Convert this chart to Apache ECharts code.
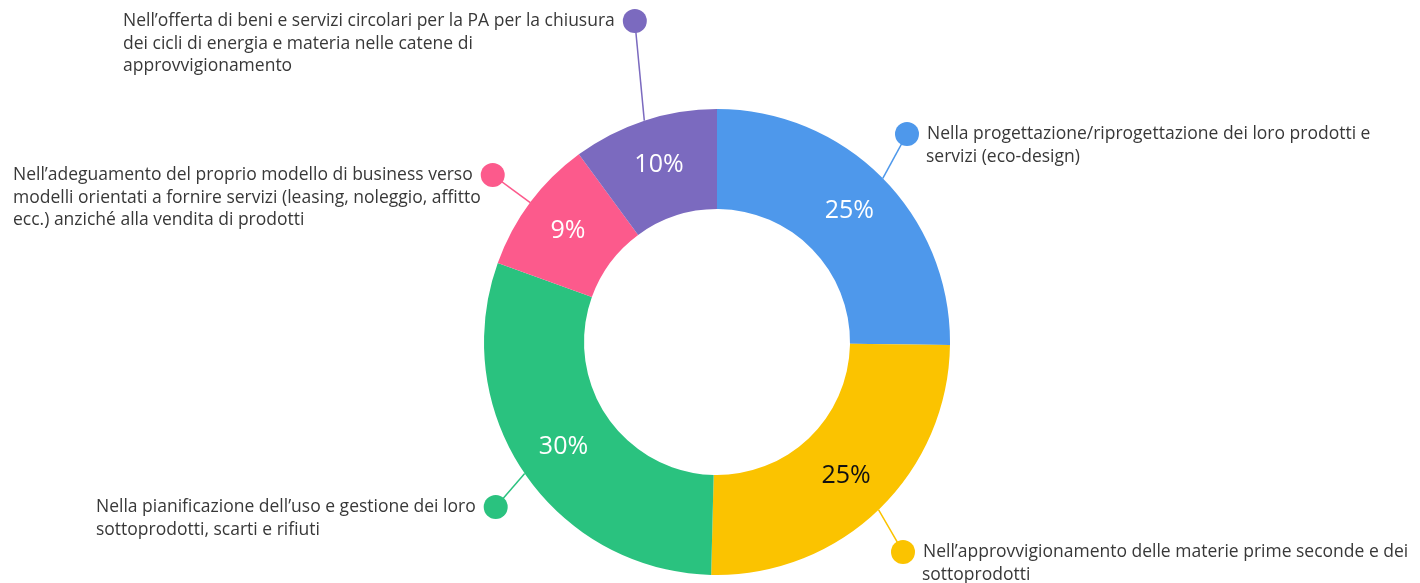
<!DOCTYPE html>
<html>
<head>
<meta charset="utf-8">
<script src="https://cdn.jsdelivr.net/npm/echarts@6/dist/echarts.min.js"></script>
<style>
  html, body { margin: 0; padding: 0; background: #fff; }
  #chart { width: 1420px; height: 583px; }
</style>
</head>
<body>
<div id="chart"></div>
<script>
// categories, clockwise from 12 o'clock (line breaks as in the original)
const categories = [
  'Nella progettazione/riprogettazione dei loro prodotti e\nservizi (eco-design)',
  'Nell\u2019approvvigionamento delle materie prime seconde e dei\nsottoprodotti',
  'Nella pianificazione dell\u2019uso e gestione dei loro\nsottoprodotti, scarti e rifiuti',
  'Nell\u2019adeguamento del proprio modello di business verso\nmodelli orientati a fornire servizi (leasing, noleggio, affitto\necc.) anziché alla vendita di prodotti',
  'Nell\u2019offerta di beni e servizi circolari per la PA per la chiusura\ndei cicli di energia e materia nelle catene di\napprovvigionamento'
];
const values = [25.2, 25.2, 30.1, 9.4, 10.1];

const colors = ['#4e98eb', '#fbc300', '#2ac27f', '#fc5a8c', '#7b6abf'];
const pctColors = ['#fff', '#111', '#fff', '#fff', '#fff'];
// where each outer label sits: [left x, top y, dot side]
const labelPos = [
  [895, 122, 'left'],
  [891, 540, 'left'],
  [96, 495, 'right'],
  [13, 163, 'right'],
  [123, 9, 'right']
];

const FONT = '"Open Sans", Roboto, sans-serif';

const rich = {
  t: { fontSize: 17.5, lineHeight: 22, color: '#383838', fontFamily: FONT },
  sp: { width: 31, height: 22, lineHeight: 22 },
  gap: { width: 8, height: 22, lineHeight: 22 }
};
colors.forEach((c, i) => {
  rich['d' + i] = { width: 24, height: 24, lineHeight: 24, borderRadius: 12, backgroundColor: c };
});

const data = categories.map((name, i) => ({ name: name, value: values[i] }));

const chart = echarts.init(document.getElementById('chart'), null, { renderer: 'canvas' });

chart.setOption({
  backgroundColor: '#fff',
  color: colors,
  animation: false,
  series: [
    {
      type: 'pie',
      center: [717, 342],
      radius: [133, 233],
      startAngle: 90,
      clockwise: true,
      data: data,
      label: {
        show: true,
        position: 'outside',
        overflow: 'none',
        rich: rich,
        formatter: function (p) {
          const lines = p.name.split('\n');
          const side = labelPos[p.dataIndex][2];
          if (side === 'left') {
            return '{d' + p.dataIndex + '|}{gap|}{t|' + lines[0] + '}' +
              lines.slice(1).map(l => '\n{sp|}{t|' + l + '}').join('');
          }
          return '{t|' + lines[0] + '}{gap|}{d' + p.dataIndex + '|}' +
            lines.slice(1).map(l => '\n{t|' + l + '}').join('');
        }
      },
      labelLine: {
        show: true,
        length: 20,
        length2: 10,
        lineStyle: { width: 1.5 }
      },
      labelLayout: function (p) {
        const pos = labelPos[p.dataIndex];
        const x = pos[0], y = pos[1];
        const dot = pos[2] === 'left'
          ? [x + 12, y + 12]
          : [x + p.labelRect.width - 12, y + 12];
        const start = p.labelLinePoints ? p.labelLinePoints[0] : dot;
        const mid = [(start[0] + dot[0]) / 2, (start[1] + dot[1]) / 2];
        return {
          x: x,
          y: y,
          align: 'left',
          verticalAlign: 'top',
          labelLinePoints: [start, mid, dot]
        };
      }
    },
    {
      type: 'pie',
      center: [717, 342],
      radius: [133, 233],
      startAngle: 90,
      clockwise: true,
      silent: true,
      itemStyle: { color: 'rgba(0,0,0,0)' },
      data: data.map((d, i) => ({
        name: d.name,
        value: d.value,
        label: { color: pctColors[i] }
      })),
      label: {
        show: true,
        position: 'inside',
        fontSize: 25,
        fontFamily: FONT,
        formatter: p => Math.round(p.value) + '%'
      },
      labelLine: { show: false }
    }
  ]
});
</script>
</body>
</html>
